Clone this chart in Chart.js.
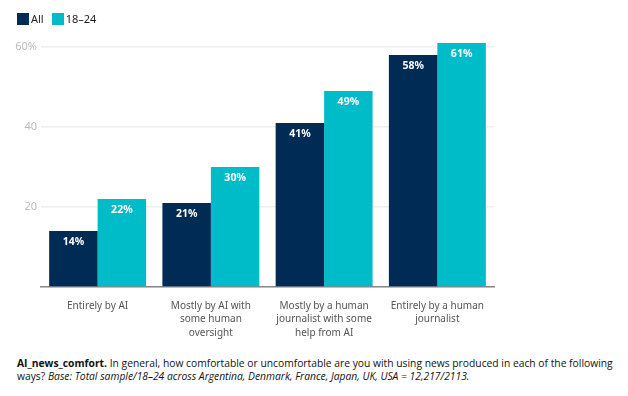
<!DOCTYPE html>
<html lang="en">
  <head>
    <meta charset="UTF-8" />
    <title>AI news comfort</title>
    <style>
      body { margin: 0; background: #fff; font-family: "Noto Sans", sans-serif; }
      .wrap { position: relative; width: 628px; height: 396px; }
      .legend { position: absolute; left: 17px; top: 11px; display: flex; gap: 8px; font-size: 11px; color: #222; }
      .legend span { display: flex; align-items: center; }
      .legend i { display: inline-block; width: 12px; height: 12px; margin-right: 2px; }
      .chart-box { position: absolute; left: 0; top: 0; width: 628px; height: 340px; }
      .note { position: absolute; left: 17px; top: 357px; width: 605px; font-size: 10.3px; line-height: 13px; color: #111; font-family: "Open Sans", sans-serif; }
    </style>
  </head>
  <body>
    <div class="wrap">
      <div class="chart-box"><canvas id="comfortChart"></canvas></div>
      <div class="legend" id="legend"></div>
      <div class="note">
        <b>AI_news_comfort.</b> In general, how comfortable or uncomfortable are you with using news produced in each of the following
        ways? <i>Base: Total sample/18&ndash;24 across Argentina, Denmark, France, Japan, UK, USA = 12,217/2113.</i>
      </div>
    </div>

    <script src="https://cdn.jsdelivr.net/npm/chart.js@4.4.0/dist/chart.umd.min.js"></script>
    <script>
      const categories = [
        ["Entirely by AI"],
        ["Mostly by AI with", "some human", "oversight"],
        ["Mostly by a human", "journalist with some", "help from AI"],
        ["Entirely by a human", "journalist"],
      ];
      const seriesNames = ["All", "18\u201324"];
      const allValues = [14, 21, 41, 58];
      const youngValues = [22, 30, 49, 61];
      const yTicks = [0, 20, 40, 60];
      const colors = ["#002b55", "#00bcc8"];

      // html legend
      const legendEl = document.getElementById("legend");
      seriesNames.forEach((name, i) => {
        const s = document.createElement("span");
        s.innerHTML = '<i style="background:' + colors[i] + '"></i>' + name;
        legendEl.appendChild(s);
      });

      // value labels inside top of bars
      const barLabels = {
        id: "barLabels",
        afterDatasetsDraw(chart) {
          const ctx = chart.ctx;
          ctx.save();
          ctx.fillStyle = "#fff";
          ctx.font = "bold 10.5px 'Noto Sans', sans-serif";
          ctx.textAlign = "center";
          ctx.textBaseline = "middle";
          chart.data.datasets.forEach((ds, di) => {
            chart.getDatasetMeta(di).data.forEach((bar, i) => {
              ctx.fillText(ds.data[i] + "%", bar.x, bar.y + 11);
            });
          });
          ctx.restore();
        },
      };

      new Chart(document.getElementById("comfortChart"), {
        type: "bar",
        data: {
          labels: categories,
          datasets: [
            { label: seriesNames[0], data: allValues, backgroundColor: colors[0] },
            { label: seriesNames[1], data: youngValues, backgroundColor: colors[1] },
          ],
        },
        options: {
          responsive: true,
          maintainAspectRatio: false,
          animation: false,
          layout: { padding: { top: 43, right: 134, left: 0, bottom: 0 } },
          datasets: { bar: { categoryPercentage: 0.856, barPercentage: 1 } },
          plugins: { legend: { display: false }, tooltip: { enabled: false } },
          scales: {
            x: {
              grid: { display: false },
              border: { color: "#888", width: 1.5 },
              ticks: {
                color: "#555",
                padding: 4,
                maxRotation: 0,
                autoSkip: false,
                font: { size: 10, family: "'Noto Sans', sans-serif", lineHeight: 1.35 },
              },
              afterFit(scale) { scale.height = 53; },
            },
            y: {
              min: 0,
              max: 61,
              afterBuildTicks(scale) { scale.ticks = yTicks.map((v) => ({ value: v })); },
              grid: { color: "#eeeeee", lineWidth: 1.5, drawTicks: false },
              border: { display: false },
              ticks: {
                color: "#bbbbbb",
                padding: 4,
                font: { size: 11, family: "'Noto Sans', sans-serif" },
                callback: (v) => (v === 0 ? "" : v === 60 ? v + "%" : v),
              },
              afterFit(scale) { scale.width = 41; },
            },
          },
        },
        plugins: [barLabels],
      });
    </script>
  </body>
</html>
